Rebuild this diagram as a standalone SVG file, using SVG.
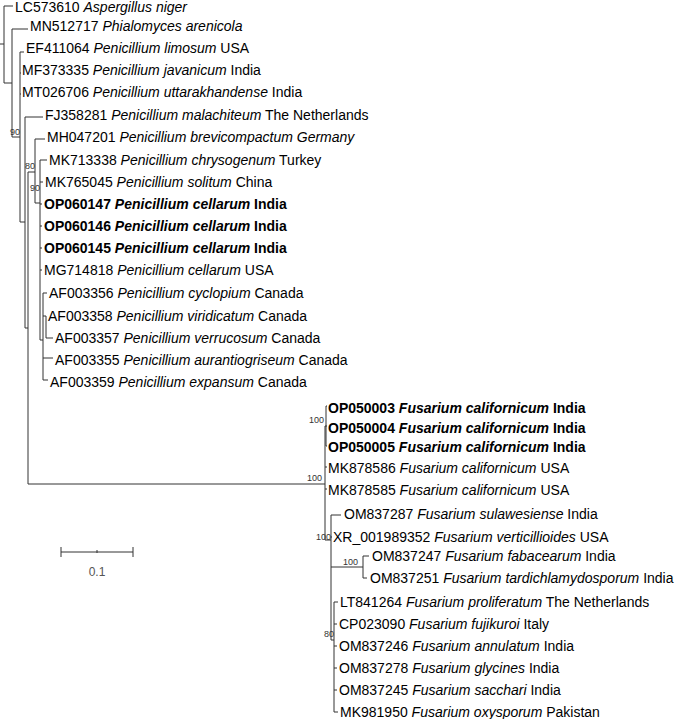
<svg xmlns="http://www.w3.org/2000/svg" width="685" height="719" viewBox="0 0 685 719">
<style>
.t{font-family:"Liberation Sans",Arial,sans-serif;font-size:14px;fill:#000}
.b{font-weight:bold}
.bs{font-family:"Liberation Sans",Arial,sans-serif;font-size:9px;fill:#333;text-anchor:end}
.br{fill:none;stroke:#333;stroke-width:1}
</style>
<rect width="685" height="719" fill="#fff"/>
<g id="connectors" class="br">
<path d="M0,44H4M4,6V83M4,6H13M4,83H12M12,29V137M12,29H28M12,137H20M20,52V222M20,52H24M20,73H21M20,94H21M20,222H25M25,117V328M25,117H43M25,328H28M28,172V484M28,172H35M35,139V203M35,139H45M35,203H40M40,160V340M40,160H47M40,182H43M40,204H42M40,226H42M40,248H42M40,270H42M40,340H43M43,293V380M43,293H47M43,316H46M46,316V338M46,338H53M43,358H53M43,380H48"/>
<path d="M28,484H325M325,426V540M325,426H326M326,406V446M326,406H327M326,426H327M326,446H327M325,467H327M325,489H327M325,540H331M331,515V640M331,515H341M331,537H332M331,567H363M363,556V578M363,556H369M363,578H367M331,640H334M334,602V712M334,602H338M334,624H337M334,646H337M334,668H337M334,690H337M334,712H338"/>
<path d="M61,552H133M61,547V557M133,547V557M97,550V553"/>
</g>
<g id="bootstrap">
<text class="bs" x="20" y="135">90</text>
<text class="bs" x="35" y="169">80</text>
<text class="bs" x="40" y="191">90</text>
<text class="bs" x="324" y="423">100</text>
<text class="bs" x="322" y="481">100</text>
<text class="bs" x="331" y="540">100</text>
<text class="bs" x="358" y="565">100</text>
<text class="bs" x="334" y="637">80</text>
</g>
<g id="scale"><text x="97" y="576" text-anchor="middle" font-family="Liberation Sans,Arial,sans-serif" font-size="12" fill="#555">0.1</text></g>
<g id="n1"><text class="t" x="15" y="12">LC573610 <tspan font-style="italic">Aspergillus niger</tspan></text></g>
<g id="n2"><text class="t" x="30" y="31">MN512717 <tspan font-style="italic">Phialomyces arenicola</tspan></text></g>
<g id="n3"><text class="t" x="26" y="53">EF411064 <tspan font-style="italic">Penicillium limosum</tspan> USA</text></g>
<g id="n4"><text class="t" x="22" y="75">MF373335 <tspan font-style="italic">Penicillium javanicum</tspan> India</text></g>
<g id="n5"><text class="t" x="22" y="97">MT026706 <tspan font-style="italic">Penicillium uttarakhandense</tspan> India</text></g>
<g id="n6"><text class="t" x="45" y="120">FJ358281 <tspan font-style="italic">Penicillium malachiteum</tspan> The Netherlands</text></g>
<g id="n7"><text class="t" x="47" y="142">MH047201 <tspan font-style="italic">Penicillium brevicompactum Germany</tspan></text></g>
<g id="n8"><text class="t" x="49" y="165">MK713338 <tspan font-style="italic">Penicillium chrysogenum</tspan> Turkey</text></g>
<g id="n9"><text class="t" x="45" y="187">MK765045 <tspan font-style="italic">Penicillium solitum</tspan> China</text></g>
<g id="n10"><text class="t b" x="44" y="209">OP060147 <tspan font-style="italic">Penicillium cellarum</tspan> India</text></g>
<g id="n11"><text class="t b" x="44" y="231">OP060146 <tspan font-style="italic">Penicillium cellarum</tspan> India</text></g>
<g id="n12"><text class="t b" x="44" y="253">OP060145 <tspan font-style="italic">Penicillium cellarum</tspan> India</text></g>
<g id="n13"><text class="t" x="44" y="275">MG714818 <tspan font-style="italic">Penicillium cellarum</tspan> USA</text></g>
<g id="n14"><text class="t" x="49" y="298">AF003356 <tspan font-style="italic">Penicillium cyclopium</tspan> Canada</text></g>
<g id="n15"><text class="t" x="48" y="321">AF003358 <tspan font-style="italic">Penicillium viridicatum</tspan> Canada</text></g>
<g id="n16"><text class="t" x="55" y="343">AF003357 <tspan font-style="italic">Penicillium verrucosum</tspan> Canada</text></g>
<g id="n17"><text class="t" x="55" y="365">AF003355 <tspan font-style="italic">Penicillium aurantiogriseum</tspan> Canada</text></g>
<g id="n18"><text class="t" x="50" y="387">AF003359 <tspan font-style="italic">Penicillium expansum</tspan> Canada</text></g>
<g id="n19"><text class="t b" x="328" y="413">OP050003 <tspan font-style="italic">Fusarium californicum</tspan> India</text></g>
<g id="n20"><text class="t b" x="328" y="433">OP050004 <tspan font-style="italic">Fusarium californicum</tspan> India</text></g>
<g id="n21"><text class="t b" x="328" y="452">OP050005 <tspan font-style="italic">Fusarium californicum</tspan> India</text></g>
<g id="n22"><text class="t" x="328" y="473">MK878586 <tspan font-style="italic">Fusarium californicum</tspan> USA</text></g>
<g id="n23"><text class="t" x="328" y="495">MK878585 <tspan font-style="italic">Fusarium californicum</tspan> USA</text></g>
<g id="n24"><text class="t" x="344" y="519">OM837287 <tspan font-style="italic">Fusarium sulawesiense</tspan> India</text></g>
<g id="n25"><text class="t" x="333" y="542">XR_001989352 <tspan font-style="italic">Fusarium verticillioides</tspan> USA</text></g>
<g id="n26"><text class="t" x="372" y="561">OM837247 <tspan font-style="italic">Fusarium fabacearum</tspan> India</text></g>
<g id="n27"><text class="t" x="370" y="583">OM837251 <tspan font-style="italic">Fusarium tardichlamydosporum</tspan> India</text></g>
<g id="n28"><text class="t" x="340" y="607">LT841264 <tspan font-style="italic">Fusarium proliferatum</tspan> The Netherlands</text></g>
<g id="n29"><text class="t" x="339" y="629">CP023090 <tspan font-style="italic">Fusarium fujikuroi</tspan> Italy</text></g>
<g id="n30"><text class="t" x="339" y="651">OM837246 <tspan font-style="italic">Fusarium annulatum</tspan> India</text></g>
<g id="n31"><text class="t" x="339" y="673">OM837278 <tspan font-style="italic">Fusarium glycines</tspan> India</text></g>
<g id="n32"><text class="t" x="339" y="695">OM837245 <tspan font-style="italic">Fusarium sacchari</tspan> India</text></g>
<g id="n33"><text class="t" x="340" y="717">MK981950 <tspan font-style="italic">Fusarium oxysporum</tspan> Pakistan</text></g>
</svg>
